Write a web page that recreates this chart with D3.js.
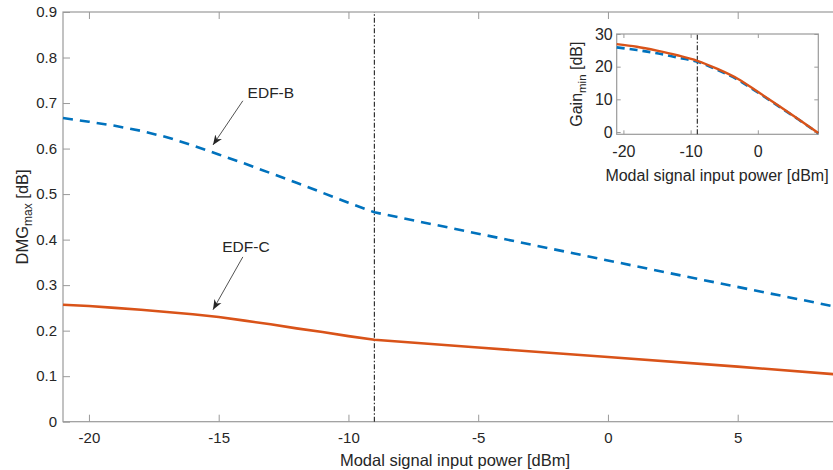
<!DOCTYPE html>
<html>
<head>
<meta charset="utf-8">
<script src="https://cdn.jsdelivr.net/npm/d3@7"></script>
<style>
  body { margin: 0; background: #fff; }
  text { font-family: "Liberation Sans", Arial, sans-serif; fill: #262626; }
</style>
</head>
<body>
<div id="chart"></div>
<script>
// main plot data (DMG_max vs input power)
var powerB = [-21, -20, -19, -18, -17, -16, -15, -14, -13, -12, -11, -10, -9, -5, -1, 3, 7, 9];
var dmgB   = [0.667, 0.659, 0.650, 0.639, 0.625, 0.607, 0.587, 0.567, 0.546, 0.525, 0.503, 0.481, 0.460,
              0.413, 0.366, 0.319, 0.273, 0.250];
var powerC = [-21, -20, -19, -18, -17, -16, -15, -14, -13, -12, -11, -10, -9, -5, 0, 5, 9];
var dmgC   = [0.257, 0.254, 0.250, 0.246, 0.241, 0.236, 0.230, 0.222, 0.214, 0.205, 0.197, 0.188, 0.180,
              0.163, 0.142, 0.121, 0.103];

// inset data (Gain_min vs input power)
var insetPower = [-21, -18, -15, -12, -9, -6, -3, 0, 3, 6, 9];
var gainB = [25.9, 25.1, 24.1, 22.8, 21.5, 19.0, 16.0, 12.1, 8.0, 3.9, -0.4];
var gainC = [26.9, 26.1, 24.9, 23.5, 21.8, 19.3, 16.3, 12.3, 8.2, 4.0, -0.3];

var xTicks = [-20, -15, -10, -5, 0, 5];
var yTicks = [0, 0.1, 0.2, 0.3, 0.4, 0.5, 0.6, 0.7, 0.8, 0.9];
var insetXTicks = [-20, -10, 0];
var insetYTicks = [0, 10, 20, 30];
var markerPower = -9;

// annotation labels: [textX, textY, tailX, tailY, tipX, tipY] in data units
var labelNames = ["EDF-B", "EDF-C"];
var labelPos = [[-12.99, 0.712, -14.07, 0.705, -15.22, 0.608],
                [-13.95, 0.372, -14.07, 0.362, -15.22, 0.246]];

var w = 833, h = 470;
var blue = "#0072BD", red = "#D95319";

var svg = d3.select("#chart").append("svg")
  .attr("width", w).attr("height", h);

svg.append("defs").append("marker")
  .attr("id", "arrow")
  .attr("viewBox", "0 0 10 10")
  .attr("refX", 10).attr("refY", 5)
  .attr("markerWidth", 10).attr("markerHeight", 10)
  .attr("markerUnits", "userSpaceOnUse")
  .attr("orient", "auto")
  .append("path")
  .attr("d", "M0,1 L10,5 L0,9 L3,5 Z")
  .attr("fill", "#262626");

function fmt(d) { return d === 0 ? "0" : String(d); }

function drawPanel(g, x, y, xt, yt, yFmt, fs, tick, padX, padY) {
  var x0 = x.range()[0], x1 = x.range()[1];
  var y0 = y.range()[0], y1 = y.range()[1];
  g.append("rect")
    .attr("x", x0).attr("y", y1)
    .attr("width", x1 - x0).attr("height", y0 - y1)
    .attr("fill", "#fff");

  var axB = g.append("g").attr("transform", "translate(0," + y0 + ")")
    .call(d3.axisBottom(x).tickValues(xt).tickSizeInner(-tick).tickSizeOuter(0).tickPadding(padX).tickFormat(fmt));
  var axT = g.append("g").attr("transform", "translate(0," + y1 + ")")
    .call(d3.axisTop(x).tickValues(xt).tickSizeInner(-tick).tickSizeOuter(0).tickFormat(""));
  var axL = g.append("g").attr("transform", "translate(" + x0 + ",0)")
    .call(d3.axisLeft(y).tickValues(yt).tickSizeInner(-tick).tickSizeOuter(0).tickPadding(padY).tickFormat(yFmt));
  var axR = g.append("g").attr("transform", "translate(" + x1 + ",0)")
    .call(d3.axisRight(y).tickValues(yt).tickSizeInner(-tick).tickSizeOuter(0).tickFormat(""));
  [axB, axT, axL, axR].forEach(function(a) {
    a.select(".domain").remove();
    a.selectAll("line").attr("stroke", "#9a9a9a");
    a.selectAll("text").style("font-size", fs + "px").attr("fill", "#262626")
      .style("font-family", "'Liberation Sans', Arial, sans-serif");
  });
  g.append("rect")
    .attr("x", x0).attr("y", y1)
    .attr("width", x1 - x0).attr("height", y0 - y1)
    .attr("fill", "none").attr("stroke", "#9a9a9a").attr("stroke-width", 1.2);
}

// ---- main axes
var xScale = d3.scaleLinear().domain([-21, 9]).range([63, 841.5]);
var yScale = d3.scaleLinear().domain([0, 0.9]).range([421.7, 12]);

var main = svg.append("g");
drawPanel(main, xScale, yScale, xTicks, yTicks,
  function(d) { return d === 0 ? "0" : d.toFixed(1); }, 15, 7, 11, 6);

var line = d3.line()
  .x(function(d) { return xScale(d[0]); })
  .y(function(d) { return yScale(d[1]); });

main.append("line")
  .attr("x1", xScale(markerPower)).attr("x2", xScale(markerPower))
  .attr("y1", yScale(0)).attr("y2", yScale(0.9))
  .attr("stroke", "#333").attr("stroke-width", 1.2)
  .attr("stroke-dasharray", "5,2,1.5,2");

main.append("path")
  .datum(d3.zip(powerB, dmgB))
  .attr("d", line).attr("fill", "none")
  .attr("stroke", blue).attr("stroke-width", 2.6)
  .attr("stroke-dasharray", "10,7");

main.append("path")
  .datum(d3.zip(powerC, dmgC))
  .attr("d", line).attr("fill", "none")
  .attr("stroke", red).attr("stroke-width", 2.6);

labelNames.forEach(function(name, i) {
  var p = labelPos[i];
  main.append("text")
    .attr("x", xScale(p[0])).attr("y", yScale(p[1]))
    .attr("text-anchor", "middle")
    .style("font-size", "15.5px")
    .text(name);
  main.append("line")
    .attr("x1", xScale(p[2])).attr("y1", yScale(p[3]))
    .attr("x2", xScale(p[4])).attr("y2", yScale(p[5]))
    .attr("stroke", "#262626").attr("stroke-width", 0.8)
    .attr("marker-end", "url(#arrow)");
});

main.append("text")
  .attr("x", 455).attr("y", 466)
  .attr("text-anchor", "middle").style("font-size", "16.5px")
  .text("Modal signal input power [dBm]");

var yl = main.append("text")
  .attr("transform", "translate(28," + ((yScale.range()[0] + yScale.range()[1]) / 2) + ") rotate(-90)")
  .attr("text-anchor", "middle").style("font-size", "16.5px");
yl.append("tspan").text("DMG");
yl.append("tspan").attr("dy", 4).style("font-size", "12px").text("max");
yl.append("tspan").attr("dy", -4).text(" [dB]");

// ---- inset
var ix = d3.scaleLinear().domain([-21, 9]).range([616.7, 818.3]);
var iy = d3.scaleLinear().domain([-0.7, 30]).range([134.3, 34]);

var inset = svg.append("g");
drawPanel(inset, ix, iy, insetXTicks, insetYTicks, fmt, 16, 4, 11, 4);

var iline = d3.line()
  .x(function(d) { return ix(d[0]); })
  .y(function(d) { return iy(d[1]); })
  .curve(d3.curveMonotoneX);

inset.append("line")
  .attr("x1", ix(markerPower)).attr("x2", ix(markerPower))
  .attr("y1", iy(-0.7)).attr("y2", iy(30))
  .attr("stroke", "#333").attr("stroke-width", 1.2)
  .attr("stroke-dasharray", "5,2,1.5,2");

inset.append("path")
  .datum(d3.zip(insetPower, gainB))
  .attr("d", iline).attr("fill", "none")
  .attr("stroke", blue).attr("stroke-width", 2.6)
  .attr("stroke-dasharray", "8,5");

inset.append("path")
  .datum(d3.zip(insetPower, gainC))
  .attr("d", iline).attr("fill", "none")
  .attr("stroke", red).attr("stroke-width", 2.4);

inset.append("text")
  .attr("x", 717).attr("y", 181)
  .attr("text-anchor", "middle").style("font-size", "16px")
  .text("Modal signal input power [dBm]");

var il = inset.append("text")
  .attr("transform", "translate(582," + ((iy.range()[0] + iy.range()[1]) / 2) + ") rotate(-90)")
  .attr("text-anchor", "middle").style("font-size", "16px");
il.append("tspan").text("Gain");
il.append("tspan").attr("dy", 4).style("font-size", "11.5px").text("min");
il.append("tspan").attr("dy", -4).text(" [dB]");
</script>
</body>
</html>
